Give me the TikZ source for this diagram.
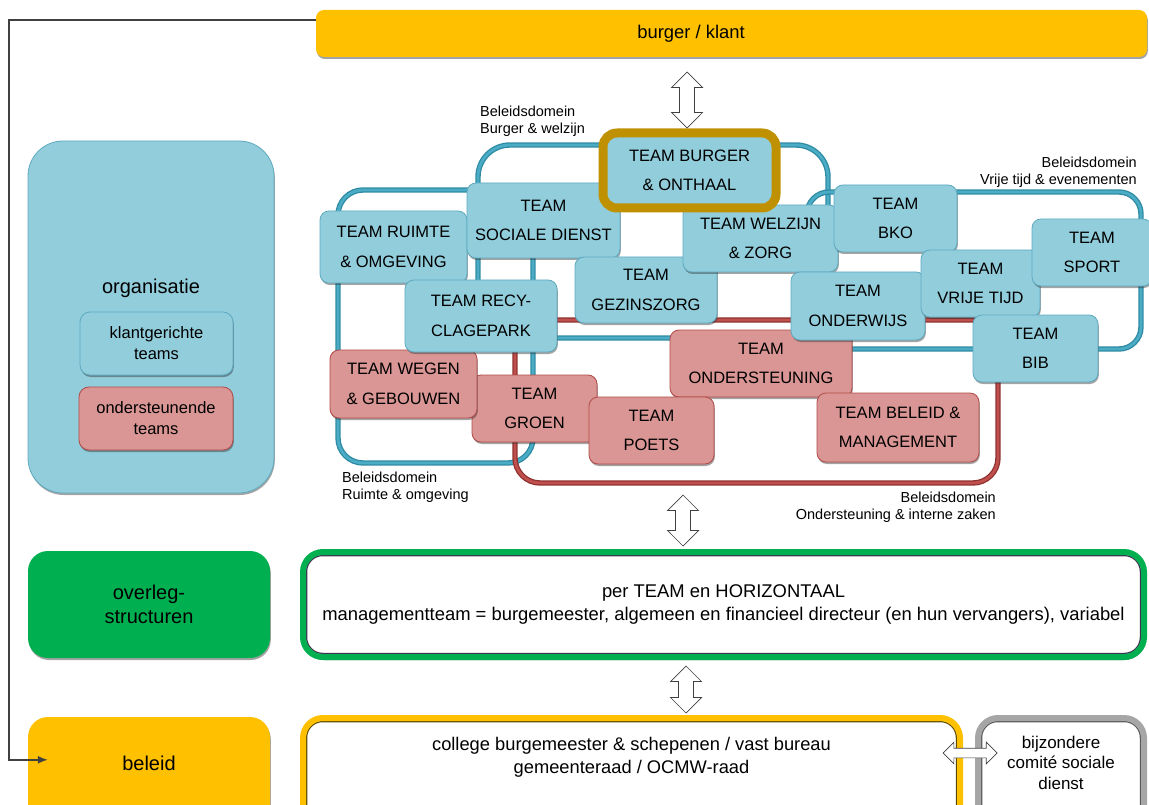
\documentclass[tikz,border=0pt]{standalone}
\usepackage{fontspec}
\setmainfont{Liberation Sans}
\usetikzlibrary{shapes.arrows,shadows,calc,arrows.meta}
\definecolor{aqua}{HTML}{92CDDC}
\definecolor{aqualine}{HTML}{5DAAC0}
\definecolor{aquaD}{HTML}{4BACC6}
\definecolor{aquaDD}{HTML}{2F8AA3}
\definecolor{rose}{HTML}{D99694}
\definecolor{roseline}{HTML}{B24A47}
\definecolor{roseD}{HTML}{C0504D}
\definecolor{roseDD}{HTML}{8E3230}
\definecolor{amber}{HTML}{FFC000}
\definecolor{goldbrd}{HTML}{BF9000}
\definecolor{grn}{HTML}{00B050}
\definecolor{gry}{HTML}{A6A6A6}
\definecolor{navyin}{HTML}{3F3151}
\definecolor{olivein}{HTML}{5A4A00}
\definecolor{grayin}{HTML}{5A5A5A}
\tikzset{
  sz/.style 2 args={minimum width=#1pt,minimum height=#2pt},
  shad/.style={drop shadow={shadow xshift=0.8pt,shadow yshift=-2pt,opacity=0.45,fill=black!80}},
  teambox/.style={draw=aqualine,line width=0.8pt,fill=aqua,rounded corners=9pt,align=center,inner sep=0pt,font=\fontsize{16.5}{29.5}\selectfont,shad},
  suppbox/.style={teambox,draw=roseline,fill=rose},
  domblue/.style={draw=aquaDD,double=aquaD,double distance=2.8pt,line width=1.3pt,rounded corners=#1},
  domred/.style={draw=roseDD,double=roseD,double distance=2.8pt,line width=1.3pt,rounded corners=#1},
  domlabel/.style={font=\fontsize{14.5}{17}\selectfont,inner sep=0pt},
  hollow/.style={double arrow,draw=black!75,fill=white,line width=0.7pt,inner xsep=0pt},
  framebox/.style={fill=white,draw=#1,line width=6pt,rounded corners=20pt,align=center,inner sep=0pt,
    drop shadow={shadow xshift=0.5pt,shadow yshift=-3pt,opacity=0.7,fill=black!85}},
  innerline/.style={path picture={\draw[#1,line width=1.3pt,rounded corners=16pt]
      ([shift={(3.6pt,-3.6pt)}]path picture bounding box.north west) rectangle
      ([shift={(-3.6pt,3.6pt)}]path picture bounding box.south east);}},
  sidebox/.style={rounded corners=20pt,align=center,inner sep=0pt,font=\fontsize{20}{24}\selectfont},
}
\begin{document}
\begin{tikzpicture}[x=1pt,y=-1pt]
\useasboundingbox (0,0) rectangle (1149,805);
\clip (0,0) rectangle (1149,805);
% top bar
\node[fill=amber,rounded corners=8pt,sz={831}{47},inner sep=0pt,font=\fontsize{18.4}{22}\selectfont,shad] (bk) at (731.5,33.5) {\hspace*{-81pt}burger / klant};
% left column
\node[fill=aqua,draw=aqualine,line width=0.8pt,rounded corners=35pt,sz={246}{352},shad,
  label={[font=\fontsize{20}{24}\selectfont,yshift=29pt]center:organisatie}] (org) at (151,317) {};
\node[teambox,rounded corners=10pt,sz={153}{63},font=\fontsize{16.5}{21}\selectfont] (klg) at (156.5,343.5) {klantgerichte\\teams};
\node[suppbox,rounded corners=10pt,sz={154}{63},font=\fontsize{16.5}{21}\selectfont] (ond) at (156,418.5) {ondersteunende\\teams};
\node[sidebox,fill=grn,sz={242}{107},shad] (ovl) at (149,604.5) {overleg-\\structuren};
\node[sidebox,fill=amber,sz={242}{113},shad,label={[font=\fontsize{20}{24}\selectfont,yshift=10.5pt]center:beleid}] (bl) at (149,773.5) {};
% domain outlines
\draw[domblue=25pt] (338,190) rectangle (533,463);
\draw[domblue=32pt] (478,145) rectangle (828,338);
\draw[domblue=22pt] (807,192) rectangle (1141,349);
\draw[domred=25pt] (515,320) rectangle (998,483);
% domain labels
\node[domlabel,anchor=west,align=left] (lbw) at (480,121.5) {Beleidsdomein\\Burger \& welzijn};
\node[domlabel,anchor=east,align=right] (lvt) at (1137,172) {Beleidsdomein\\Vrije tijd \& evenementen};
\node[domlabel,anchor=west,align=left] (lro) at (342,487.5) {Beleidsdomein\\Ruimte \& omgeving};
\node[domlabel,anchor=east,align=right] (loi) at (996,507.5) {Beleidsdomein\\Ondersteuning \& interne zaken};
% supporting teams
\node[suppbox,sz={182}{67}] (tond) at (761,363.5) {TEAM\\ONDERSTEUNING};
\node[suppbox,sz={125}{67}] (tgro) at (534.5,408.5) {TEAM\\GROEN};
\node[suppbox,sz={147}{68}] (tweg) at (403.5,384) {TEAM WEGEN\\\& GEBOUWEN};
\node[suppbox,sz={125}{67}] (tpoe) at (651.5,430.5) {TEAM\\POETS};
\node[suppbox,sz={162}{69}] (tbel) at (898,427.5) {TEAM BELEID \&\\MANAGEMENT};
% client teams
\node[teambox,sz={147}{72}] (trui) at (393.5,247) {TEAM RUIMTE\\\& OMGEVING};
\node[teambox,sz={153}{75}] (tsoc) at (543.5,220.5) {TEAM\\SOCIALE DIENST};
\node[teambox,sz={152}{72}] (trec) at (481,316) {TEAM RECY-\\CLAGEPARK};
\node[teambox,sz={142}{66}] (tgez) at (646,290) {TEAM\\GEZINSZORG};
\node[teambox,sz={155}{67}] (twel) at (760.5,238.5) {TEAM WELZIJN\\\& ZORG};
\node[teambox,draw=goldbrd,line width=9pt,rounded corners=14pt,sz={173}{75}] (tbur) at (689.5,170.5) {TEAM BURGER\\\& ONTHAAL};
\node[teambox,sz={123}{67}] (tbko) at (895.5,218.5) {TEAM\\BKO};
\node[teambox,sz={134}{68}] (tonw) at (858,306) {TEAM\\ONDERWIJS};
\node[teambox,sz={119}{67}] (tvri) at (980.5,283.5) {TEAM\\VRIJE TIJD};
\node[teambox,sz={120}{67}] (tspo) at (1092,252.5) {TEAM\\SPORT};
\node[teambox,sz={125}{67}] (tbib) at (1035.5,348.5) {TEAM\\BIB};
% framed boxes
\node[framebox=grn,innerline=navyin,sz={841}{105},font=\fontsize{18.4}{22.5}\selectfont] (ovt) at (723.5,604.5) {per TEAM en HORIZONTAAL\\managementteam = burgemeester, algemeen en financieel directeur (en hun vervangers), variabel};
\node[framebox=amber,innerline=olivein,sz={657}{132},label={[font=\fontsize{18.3}{23}\selectfont,align=center,yshift=26.5pt]center:{college burgemeester \& schepenen / vast bureau\\gemeenteraad / OCMW-raad}}] (col) at (631.5,784) {};
\node[framebox=gry,innerline=grayin,sz={166}{132},label={[font=\fontsize{17}{20.5}\selectfont,align=center,yshift=21.5pt]center:{bijzondere\\comité sociale\\dienst}}] (bcs) at (1061,784) {};
% hollow double arrows
\node[hollow,rotate=90,inner ysep=7pt,minimum height=56pt,minimum width=31pt,double arrow head extend=8pt] (a1) at (687,100) {};
\node[hollow,rotate=90,inner ysep=7pt,minimum height=51pt,minimum width=31pt,double arrow head extend=8pt] (a2) at (683,520.5) {};
\node[hollow,rotate=90,inner ysep=7pt,minimum height=47pt,minimum width=31pt,double arrow head extend=8pt] (a3) at (686,689.5) {};
\node[hollow,inner ysep=4.5pt,minimum height=54pt,minimum width=21pt,double arrow head extend=6pt] (a4) at (970,753) {};
% feedback connector
\coordinate (lk) at ($(bk.north west)+(0,10)$);
\coordinate (bt) at ($(bl.north west)+(20,43)$);
\draw[draw=black!75,line width=1.5pt,-{Latex[length=10pt,width=8pt]}] (lk) -- ++(-307,0) |- (bt);
\end{tikzpicture}
\end{document}
